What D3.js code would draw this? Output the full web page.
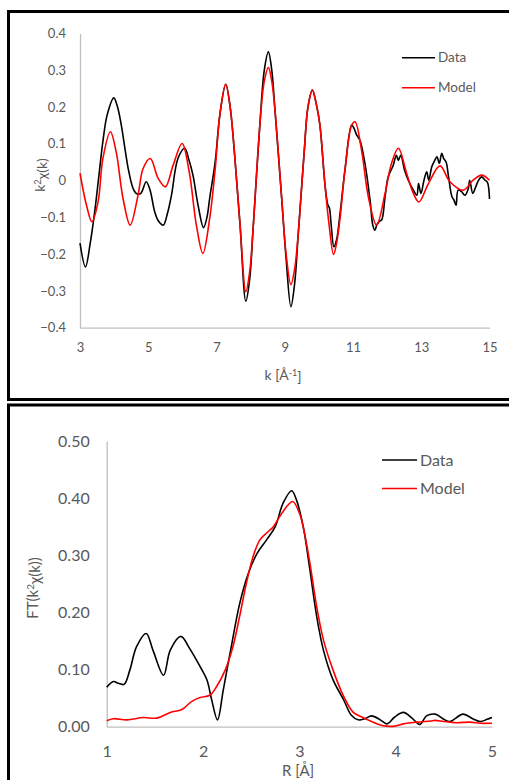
<!DOCTYPE html>
<html>
<head>
<meta charset="utf-8">
<script src="https://cdn.jsdelivr.net/npm/d3@7"></script>
<style>
  body { margin: 0; background: #fff; }
  svg { display: block; }
  text { font-family: Lato, "Open Sans", sans-serif; fill: #595959; }
</style>
</head>
<body>
<svg></svg>
<script>
// chi(k) panel
let kData = [3.0, 3.16, 3.3, 3.43, 3.55, 3.67, 3.8, 3.99, 4.1, 4.21, 4.41, 4.55, 4.65, 4.78, 4.94, 5.05, 5.19, 5.3, 5.44, 5.56, 5.68, 5.87, 6.07, 6.18, 6.31, 6.46, 6.62, 6.72, 6.8, 6.96, 7.1, 7.27, 7.4, 7.54, 7.69, 7.86, 7.97, 8.08, 8.27, 8.4, 8.52, 8.62, 8.71, 8.91, 9.04, 9.18, 9.29, 9.4, 9.57, 9.68, 9.81, 9.92, 10.03, 10.18, 10.26, 10.31, 10.36, 10.44, 10.52, 10.62, 10.77, 10.96, 11.04, 11.1, 11.2, 11.35, 11.5, 11.58, 11.64, 11.7, 11.78, 11.84, 11.94, 12.03, 12.18, 12.27, 12.33, 12.4, 12.51, 12.62, 12.77, 12.87, 12.92, 12.99, 13.08, 13.16, 13.22, 13.31, 13.4, 13.46, 13.53, 13.6, 13.66, 13.73, 13.8, 13.9, 13.96, 14.02, 14.08, 14.18, 14.28, 14.38, 14.42, 14.51, 14.58, 14.68, 14.77, 14.87, 14.94, 15.0];
let chiData = [-0.17, -0.235, -0.17, -0.085, 0.01, 0.106, 0.18, 0.225, 0.2, 0.151, 0.034, -0.02, -0.035, -0.035, -0.003, -0.025, -0.085, -0.11, -0.121, -0.09, -0.04, 0.06, 0.088, 0.06, 0.015, -0.067, -0.128, -0.1, -0.048, 0.05, 0.18, 0.262, 0.2, 0.06, -0.12, -0.328, -0.27, -0.12, 0.151, 0.3, 0.35, 0.3, 0.196, -0.048, -0.212, -0.343, -0.28, -0.139, 0.078, 0.2, 0.246, 0.21, 0.151, -0.012, -0.065, -0.075, -0.12, -0.18, -0.16, -0.09, 0.033, 0.151, 0.14, 0.125, 0.11, 0.047, -0.053, -0.121, -0.135, -0.12, -0.11, -0.107, -0.044, 0.01, 0.042, 0.069, 0.055, 0.069, 0.029, 0.001, -0.026, -0.04, -0.008, -0.035, 0.001, 0.024, 0.001, 0.038, 0.056, 0.065, 0.047, 0.074, 0.06, 0.05, 0.01, -0.044, -0.053, -0.067, -0.026, -0.03, -0.04, -0.021, 0.001, -0.035, -0.021, 0.001, 0.01, 0.001, -0.005, -0.05];

let kModel = [3.0, 3.19, 3.35, 3.53, 3.67, 3.89, 4.06, 4.26, 4.47, 4.7, 4.85, 5.06, 5.29, 5.5, 5.73, 5.99, 6.2, 6.41, 6.6, 6.8, 6.96, 7.1, 7.27, 7.4, 7.54, 7.69, 7.86, 7.97, 8.08, 8.27, 8.4, 8.52, 8.62, 8.71, 8.91, 9.04, 9.18, 9.29, 9.4, 9.57, 9.68, 9.81, 9.92, 10.03, 10.18, 10.3, 10.43, 10.52, 10.62, 10.77, 10.96, 11.06, 11.25, 11.45, 11.69, 11.94, 12.13, 12.33, 12.57, 12.77, 12.93, 13.21, 13.55, 13.84, 14.23, 14.52, 14.77, 15.0];
let chiModel = [0.02, -0.067, -0.112, -0.058, 0.06, 0.133, 0.078, -0.048, -0.121, -0.04, 0.033, 0.06, 0.006, -0.017, 0.042, 0.101, 0.024, -0.121, -0.198, -0.103, 0.03, 0.18, 0.262, 0.2, 0.06, -0.12, -0.302, -0.25, -0.12, 0.151, 0.27, 0.308, 0.27, 0.196, -0.048, -0.2, -0.283, -0.24, -0.139, 0.078, 0.2, 0.246, 0.21, 0.151, -0.012, -0.121, -0.201, -0.17, -0.103, 0.033, 0.15, 0.16, 0.083, -0.044, -0.121, -0.035, 0.047, 0.088, 0.02, -0.035, -0.058, -0.008, 0.04, -0.003, -0.026, 0.001, 0.015, 0.001];

let kTicks = [3, 5, 7, 9, 11, 13, 15];
let chiTicks = [0.4, 0.3, 0.2, 0.1, 0, -0.1, -0.2, -0.3, -0.4];

// FT panel
let rData = [1.0, 1.07, 1.12, 1.18, 1.24, 1.31, 1.41, 1.48, 1.59, 1.66, 1.77, 1.86, 1.97, 2.04, 2.09, 2.15, 2.21, 2.3, 2.38, 2.47, 2.56, 2.66, 2.75, 2.83, 2.92, 2.97, 3.04, 3.11, 3.18, 3.25, 3.35, 3.46, 3.54, 3.61, 3.68, 3.75, 3.84, 3.91, 3.99, 4.08, 4.17, 4.25, 4.32, 4.41, 4.5, 4.56, 4.7, 4.8, 4.88, 4.95, 5.0];
let ftData = [0.069, 0.079, 0.076, 0.074, 0.099, 0.14, 0.163, 0.134, 0.09, 0.134, 0.158, 0.137, 0.105, 0.082, 0.047, 0.012, 0.064, 0.146, 0.215, 0.268, 0.303, 0.327, 0.35, 0.391, 0.413, 0.397, 0.35, 0.274, 0.193, 0.134, 0.082, 0.047, 0.02, 0.012, 0.014, 0.019, 0.012, 0.005, 0.017, 0.025, 0.015, 0.004, 0.019, 0.022, 0.013, 0.009, 0.022, 0.014, 0.009, 0.013, 0.016];

let rModel = [1.0, 1.07, 1.21, 1.38, 1.52, 1.66, 1.78, 1.88, 1.97, 2.07, 2.14, 2.23, 2.31, 2.38, 2.45, 2.52, 2.59, 2.66, 2.73, 2.82, 2.93, 3.0, 3.04, 3.11, 3.18, 3.25, 3.35, 3.46, 3.56, 3.66, 3.75, 3.84, 3.91, 3.99, 4.08, 4.22, 4.36, 4.41, 4.5, 4.63, 4.77, 4.88, 5.0];
let ftModel = [0.0105, 0.014, 0.012, 0.016, 0.015, 0.025, 0.03, 0.044, 0.051, 0.055, 0.07, 0.099, 0.14, 0.193, 0.251, 0.298, 0.327, 0.339, 0.35, 0.374, 0.394, 0.374, 0.35, 0.286, 0.21, 0.152, 0.099, 0.053, 0.025, 0.016, 0.009, 0.003, 0.001, 0.001, 0.005, 0.008, 0.01, 0.011, 0.009, 0.007, 0.008, 0.006, 0.006];

let rTicks = [1, 2, 3, 4, 5];
let ftTicks = [0.5, 0.4, 0.3, 0.2, 0.1, 0];

let seriesNames = ["Data", "Model"];
let seriesColors = ["#000000", "#ff0000"];

let width = 509;
let height = 780;

let svg = d3.select("svg")
    .attr("width", width)
    .attr("height", height);

// panel frames
svg.append("rect")
    .attr("x", 8.5).attr("y", 11.5)
    .attr("width", 520).attr("height", 388)
    .attr("fill", "none").attr("stroke", "#000").attr("stroke-width", 3);

svg.append("rect")
    .attr("x", 8.5).attr("y", 405)
    .attr("width", 520).attr("height", 400)
    .attr("fill", "none").attr("stroke", "#000").attr("stroke-width", 3);

let drawPanel = (p) => {
    let x = d3.scaleLinear().domain(p.xDomain).range([p.left, p.right]);
    let y = d3.scaleLinear().domain(p.yDomain).range([p.bottom, p.top]);

    let g = svg.append("g");

    // axis lines, no tick marks
    let yAxis = d3.axisLeft(y).tickValues(p.yTicks).tickSize(0).tickPadding(p.yPad).tickFormat(p.yFormat);
    let xAxis = d3.axisBottom(x).tickValues(p.xTicks).tickSize(0).tickPadding(p.xPad).tickFormat(d3.format("d"));

    let ya = g.append("g")
        .attr("transform", "translate(" + p.left + ",0)")
        .call(yAxis);
    let xa = g.append("g")
        .attr("transform", "translate(0," + p.bottom + ")")
        .call(xAxis);

    [ya, xa].forEach((a) => {
        a.select(".domain").attr("stroke", "#bfbfbf").attr("stroke-width", 1.3);
        a.selectAll("text")
            .style("font-family", "Lato, 'Open Sans', sans-serif")
            .style("font-size", p.tickSize + "px")
            .attr("fill", "#595959");
    });

    let line = d3.line()
        .x((d) => x(d[0]))
        .y((d) => y(d[1]))
        .curve(d3.curveCatmullRom.alpha(0.5));

    p.series.forEach((s, i) => {
        g.append("path")
            .datum(d3.zip(s[0], s[1]))
            .attr("fill", "none")
            .attr("stroke", seriesColors[i])
            .attr("stroke-width", 1.6)
            .attr("stroke-linejoin", "round")
            .attr("d", line);
    });

    // legend
    seriesNames.forEach((name, i) => {
        let ly = p.legY + i * p.legGap;
        g.append("line")
            .attr("x1", p.legX).attr("x2", p.legX + p.legLen)
            .attr("y1", ly).attr("y2", ly)
            .attr("stroke", seriesColors[i]).attr("stroke-width", 1.6);
        g.append("text")
            .attr("x", p.legX + p.legLen + 3)
            .attr("y", ly)
            .attr("dy", "0.35em")
            .style("font-size", p.legSize + "px")
            .text(name);
    });

    return g;
};

let topPanel = drawPanel({
    xDomain: [3, 15], yDomain: [-0.4, 0.4],
    left: 80, right: 489.5, top: 33.5, bottom: 327.7,
    xTicks: kTicks, yTicks: chiTicks,
    yFormat: (d) => d === 0 ? "0" : d3.format(".1f")(d),
    yPad: 14, xPad: 15, tickSize: 13,
    series: [[kData, chiData], [kModel, chiModel]],
    legX: 402, legY: 57.7, legGap: 30, legLen: 33, legSize: 13.5
});

topPanel.append("text")
    .attr("x", 283).attr("y", 380)
    .attr("text-anchor", "middle")
    .style("font-size", "14px")
    .call((t) => {
        t.append("tspan").text("k [Å");
        t.append("tspan").attr("dy", "-0.45em").style("font-size", "9px").text("-1");
        t.append("tspan").attr("dy", "0.45em").text("]");
    });

topPanel.append("text")
    .attr("transform", "translate(45,175) rotate(-90)")
    .attr("text-anchor", "middle")
    .style("font-size", "14px")
    .call((t) => {
        t.append("tspan").text("k");
        t.append("tspan").attr("dy", "-0.45em").style("font-size", "9px").text("2");
        t.append("tspan").attr("dy", "0.45em").text("χ(k)");
    });

let bottomPanel = drawPanel({
    xDomain: [1, 5], yDomain: [0, 0.5],
    left: 106.7, right: 492, top: 441, bottom: 726.7,
    xTicks: rTicks, yTicks: ftTicks,
    yFormat: d3.format(".2f"),
    yPad: 17, xPad: 19, tickSize: 16,
    series: [[rData, ftData], [rModel, ftModel]],
    legX: 382, legY: 460, legGap: 28.5, legLen: 35, legSize: 16
});

bottomPanel.append("text")
    .attr("x", 298).attr("y", 775.5)
    .attr("text-anchor", "middle")
    .style("font-size", "15px")
    .text("R [Å]");

bottomPanel.append("text")
    .attr("transform", "translate(38,588) rotate(-90)")
    .attr("text-anchor", "middle")
    .style("font-size", "15px")
    .call((t) => {
        t.append("tspan").text("FT(k");
        t.append("tspan").attr("dy", "-0.45em").style("font-size", "10px").text("2");
        t.append("tspan").attr("dy", "0.45em").text("χ(k))");
    });
</script>
</body>
</html>
